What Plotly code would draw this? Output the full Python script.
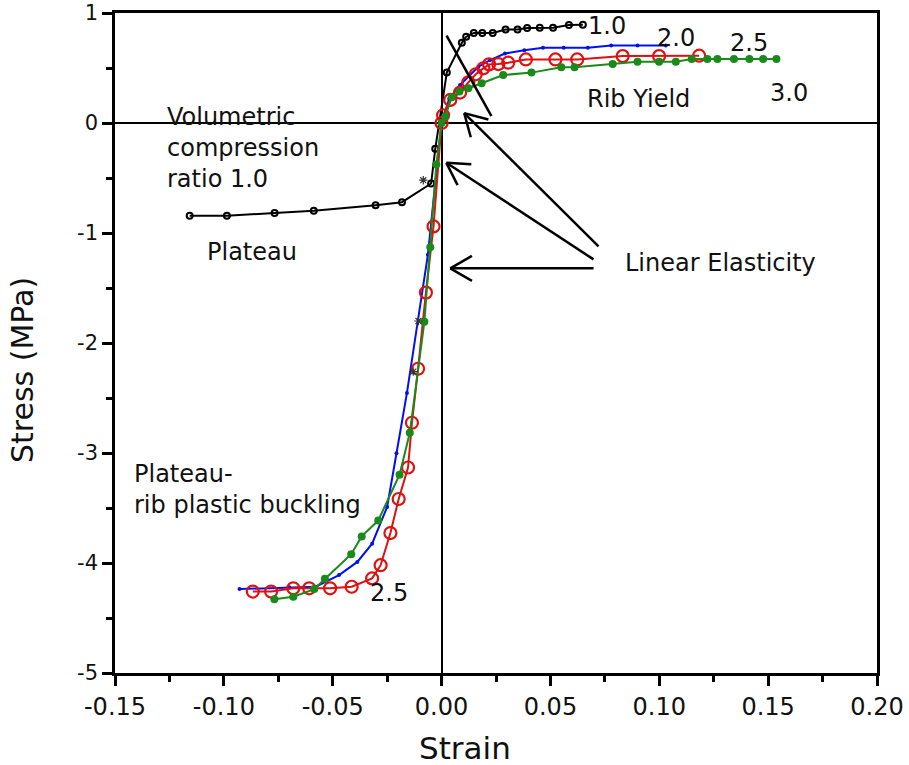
import math
import plotly.graph_objects as go

# ---- data ----
strain_10 = [-0.1157, -0.0986, -0.0767, -0.0587, -0.0303, -0.0182, -0.0048, -0.0029,
             0.0024, 0.0093, 0.0113, 0.0148, 0.0187, 0.0235, 0.0294, 0.0349, 0.0393,
             0.0451, 0.0512, 0.0585, 0.0649]
stress_10 = [-0.843, -0.843, -0.819, -0.798, -0.747, -0.72, -0.55, -0.235,
             0.458, 0.729, 0.783, 0.819, 0.819, 0.819, 0.849, 0.849, 0.864,
             0.867, 0.867, 0.891, 0.894]

strain_20 = [-0.0928, -0.07, -0.0578, -0.0471, -0.0387, -0.0319, -0.025, -0.0207, -0.0159,
             -0.0063, 0.0, 0.0035, 0.0085, 0.0169, 0.0223, 0.0291, 0.038, 0.0466, 0.0561,
             0.0672, 0.0779, 0.09, 0.103]
stress_20 = [-4.237, -4.22, -4.216, -4.11, -3.99, -3.824, -3.49, -3.002, -2.454,
             -1.198, 0.0, 0.22, 0.346, 0.512, 0.572, 0.632, 0.662, 0.684, 0.684,
             0.684, 0.705, 0.705, 0.705]

strain_25 = [-0.0867, -0.0783, -0.0681, -0.0608, -0.0512, -0.0413, -0.0319, -0.028, -0.0235,
             -0.0197, -0.0154, -0.0136, -0.0108, -0.0072, -0.0037, 0.0, 0.0007, 0.004, 0.0085,
             0.0123, 0.0157, 0.0192, 0.0218, 0.0261, 0.0306, 0.0387, 0.0523, 0.0623, 0.0832,
             0.0999, 0.1183]
stress_25 = [-4.26, -4.26, -4.23, -4.23, -4.23, -4.216, -4.14, -4.02, -3.728,
             -3.418, -3.132, -2.725, -2.234, -1.542, -0.94, 0.0, 0.07, 0.21, 0.277,
             0.37, 0.443, 0.497, 0.533, 0.536, 0.548, 0.578, 0.578, 0.578, 0.608,
             0.608, 0.612]

strain_30 = [-0.0768, -0.0681, -0.0585, -0.0536, -0.0415, -0.0367, -0.0291, -0.0193, -0.0146,
             -0.0079, -0.0052, -0.0024, 0.0, 0.0017, 0.0047, 0.0082, 0.0123, 0.0184, 0.0283,
             0.0413, 0.055, 0.0611, 0.0786, 0.09, 0.0999, 0.1076, 0.1149, 0.1221, 0.1267,
             0.1343, 0.1414, 0.1477, 0.1538]
stress_30 = [-4.33, -4.306, -4.237, -4.143, -3.92, -3.758, -3.614, -3.198, -2.816,
             -1.807, -1.129, -0.377, 0.0, 0.06, 0.235, 0.286, 0.316, 0.361, 0.436,
             0.458, 0.506, 0.506, 0.536, 0.557, 0.557, 0.557, 0.581, 0.581, 0.581,
             0.581, 0.581, 0.581, 0.581]

star_strain = [-0.0084, -0.0106, -0.0130]
star_stress = [-0.52, -1.80, -2.26]

x_tickvals = [-0.15, -0.10, -0.05, 0.0, 0.05, 0.10, 0.15, 0.20]
x_ticktext = ["-0.15", "-0.10", "-0.05", "0.00", "0.05", "0.10", "0.15", "0.20"]
y_tickvals = [-5, -4, -3, -2, -1, 0, 1]
y_ticktext = ["-5", "-4", "-3", "-2", "-1", "0", "1"]

FONT = "DejaVu Sans"
X_RANGE = [-0.15, 0.20]
Y_RANGE = [-5, 1]
ML, MR, MT, MB = 115, 32, 13, 92
W, H = 909, 765
PW, PH = W - ML - MR, H - MT - MB
SX = PW / (X_RANGE[1] - X_RANGE[0])
SY = PH / (Y_RANGE[1] - Y_RANGE[0])

fig = go.Figure()
fig.add_trace(go.Scatter(x=strain_10, y=stress_10, mode="lines+markers",
                         line=dict(color="black", width=2),
                         marker=dict(symbol="circle-open", size=6, color="black",
                                     line=dict(width=2, color="black"))))
fig.add_trace(go.Scatter(x=strain_20, y=stress_20, mode="lines+markers",
                         line=dict(color="#0010ee", width=2),
                         marker=dict(symbol="circle", size=4, color="#0010ee")))
fig.add_trace(go.Scatter(x=strain_25, y=stress_25, mode="lines+markers",
                         line=dict(color="#e01010", width=2),
                         marker=dict(symbol="circle-open", size=12, color="#e01010",
                                     line=dict(width=2.2, color="#e01010"))))
fig.add_trace(go.Scatter(x=strain_30, y=stress_30, mode="lines+markers",
                         line=dict(color="#1a8a1a", width=2),
                         marker=dict(symbol="circle", size=8, color="#1a8a1a")))
fig.add_trace(go.Scatter(x=star_strain, y=star_stress, mode="markers",
                         marker=dict(symbol="asterisk-open", size=7, color="#333333",
                                     line=dict(width=1.2, color="#333333"))))

# tangent line for rib yield
fig.add_shape(type="line", x0=0.0023, y0=0.795, x1=0.0229, y1=0.063,
              line=dict(color="black", width=2.5))

def txt(x, y, s, xanchor="left", size=24):
    fig.add_annotation(x=x, y=y, text=s, showarrow=False, xanchor=xanchor,
                       yanchor="middle", align="left",
                       font=dict(family=FONT, size=size, color="#111"))

txt(-0.1271, -0.226, "Volumetric<br>compression<br>ratio 1.0")
txt(-0.0869, -1.174, "Plateau", xanchor="center")
txt(-0.1422, -3.333, "Plateau-<br>rib plastic buckling")
txt(0.0905, 0.217, "Rib Yield", xanchor="center")
txt(0.0832, -1.274, "Linear Elasticity")
txt(0.0663, 0.885, "1.0")
txt(0.0979, 0.777, "2.0")
txt(0.1317, 0.723, "2.5")
txt(0.150, 0.271, "3.0")
txt(-0.0338, -4.273, "2.5")

def arrow(x0, y0, x1, y1, head=25, ang=30):
    line = dict(color="black", width=2.5)
    fig.add_shape(type="line", x0=x0, y0=y0, x1=x1, y1=y1, line=line)
    dx, dy = (x0 - x1) * SX, (y0 - y1) * SY
    n = math.hypot(dx, dy)
    dx, dy = dx / n, dy / n
    for s in (1, -1):
        a = math.radians(ang * s)
        rx = dx * math.cos(a) - dy * math.sin(a)
        ry = dx * math.sin(a) + dy * math.cos(a)
        fig.add_shape(type="line", x0=x1, y0=y1,
                      x1=x1 + rx * head / SX, y1=y1 + ry * head / SY, line=line)

arrow(0.0721, -1.122, 0.0104, 0.09)
arrow(0.0698, -1.24, 0.0022, -0.362)
arrow(0.0698, -1.321, 0.0040, -1.321)

# axis titles
fig.add_annotation(xref="paper", yref="paper", x=(465 - ML) / PW, y=(H - MB - 748) / PH,
                   text="Strain", showarrow=False, xanchor="center", yanchor="middle",
                   font=dict(family=FONT, size=31, color="#111"))
fig.add_annotation(xref="paper", yref="paper", x=(22 - ML) / PW, y=(H - MB - 370) / PH,
                   text="Stress (MPa)", showarrow=False, textangle=-90,
                   xanchor="center", yanchor="middle",
                   font=dict(family=FONT, size=30, color="#111"))

fig.update_layout(
    width=W, height=H,
    margin=dict(l=ML, r=MR, t=MT, b=MB),
    paper_bgcolor="white", plot_bgcolor="white",
    showlegend=False,
    font=dict(family=FONT, color="black"),
)
fig.update_xaxes(
    range=X_RANGE, tickvals=x_tickvals, ticktext=x_ticktext, automargin=False,
    ticklabeloverflow="allow",
    ticks="outside", ticklen=10, tickwidth=2.5, tickcolor="black",
    minor=dict(dtick=0.025, tick0=0, ticks="outside", ticklen=6, tickwidth=2.5, tickcolor="black"),
    showline=True, linecolor="black", linewidth=2.5, mirror=True,
    showgrid=False, zeroline=True, zerolinecolor="black", zerolinewidth=2,
    tickfont=dict(family=FONT, size=24, color="#111"),
)
fig.update_yaxes(
    range=Y_RANGE, tickvals=y_tickvals, ticktext=y_ticktext, automargin=False,
    ticklabeloverflow="allow",
    ticks="outside", ticklen=10, tickwidth=2.5, tickcolor="black",
    minor=dict(dtick=0.5, tick0=0, ticks="outside", ticklen=6, tickwidth=2.5, tickcolor="black"),
    showline=True, linecolor="black", linewidth=2.5, mirror=True,
    showgrid=False, zeroline=True, zerolinecolor="black", zerolinewidth=2,
    tickfont=dict(family=FONT, size=21, color="#111"),
)

fig.write_html("out.html")
